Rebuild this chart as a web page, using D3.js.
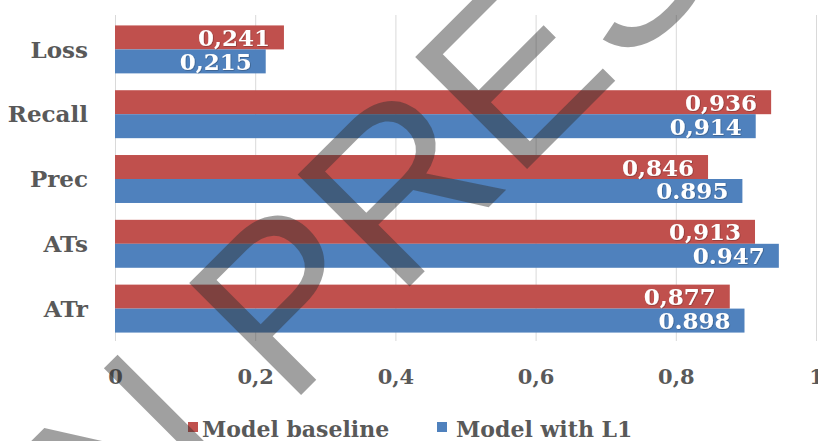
<!DOCTYPE html>
<html>
<head>
<meta charset="utf-8">
<script src="https://cdn.jsdelivr.net/npm/d3@7"></script>
<style>
  html, body { margin: 0; padding: 0; background: #ffffff; }
  svg { display: block; }
  .cat text, .xax text { font-family: "DejaVu Serif", serif; font-weight: bold; fill: #595959; }
  .val { font-family: "DejaVu Serif", serif; font-weight: bold; fill: #ffffff; font-size: 23px; }
  .legend text { font-family: "DejaVu Serif", serif; font-weight: bold; fill: #595959; font-size: 22px; }
</style>
</head>
<body>
<svg id="chart" width="818" height="441"></svg>
<script>
// Metrics, top to bottom
const categories = ["Loss", "Recall", "Prec", "ATs", "ATr"];
const seriesNames = ["Model baseline", "Model with L1"];
const baselineValues = [0.241, 0.936, 0.846, 0.913, 0.877];
const l1Values = [0.215, 0.914, 0.895, 0.947, 0.898];
// decimal separator printed on each value label
const baselineSeparators = [",", ",", ",", ",", ","];
const l1Separators = [",", ",", ".", ".", "."];
const xTicks = [0, 0.2, 0.4, 0.6, 0.8, 1];
const colors = ["#C0504D", "#4F81BD"];

const svg = d3.select("#chart");
const plot = { left: 115, right: 816, top: 17, bottom: 341 };

const x = d3.scaleLinear().domain([0, 1]).range([plot.left, plot.right]);
const y = d3.scaleBand().domain(categories).range([plot.top, plot.bottom])
  .paddingInner(0.26).paddingOuter(0.13);
const sub = d3.scaleBand().domain([0, 1]).range([0, y.bandwidth()]);

const commaLocale = d3.formatLocale({ decimal: ",", thousands: " ", grouping: [3], currency: ["", ""] });
const tickFmt = v => v === 0 || v === 1 ? String(v) : commaLocale.format(".1f")(v);

// vertical gridlines
const grid = svg.append("g")
  .attr("transform", `translate(0,${plot.bottom})`)
  .call(d3.axisBottom(x).tickValues(xTicks).tickSize(-(plot.bottom - plot.top + 2)).tickFormat(""));
grid.select(".domain").remove();
grid.selectAll("line").attr("stroke", "#d9d9d9").attr("stroke-width", 1);

// bars
const rows = categories.map((c, i) => ({
  cat: c,
  vals: [
    { s: 0, v: baselineValues[i], sep: baselineSeparators[i] },
    { s: 1, v: l1Values[i], sep: l1Separators[i] }
  ]
}));

const groups = svg.append("g").selectAll("g").data(rows).join("g")
  .attr("transform", d => `translate(0,${y(d.cat)})`);

groups.selectAll("rect").data(d => d.vals).join("rect")
  .attr("x", x(0))
  .attr("y", d => sub(d.s))
  .attr("width", d => x(d.v) - x(0))
  .attr("height", sub.bandwidth())
  .attr("fill", d => colors[d.s]);

// value labels inside bar ends
const defs = svg.append("defs");
const f = defs.append("filter").attr("id", "lblshadow").attr("x", "-10%").attr("y", "-20%").attr("width", "120%").attr("height", "140%");
f.append("feDropShadow").attr("dx", 0.6).attr("dy", 0.6).attr("stdDeviation", 0.6)
  .attr("flood-color", "#000").attr("flood-opacity", 0.35);

groups.selectAll("text").data(d => d.vals).join("text")
  .attr("class", "val")
  .attr("filter", "url(#lblshadow)")
  .attr("x", d => x(d.v) - 14)
  .attr("y", d => sub(d.s) + sub.bandwidth() / 2)
  .attr("dy", "0.37em")
  .attr("text-anchor", "end")
  .text(d => d3.format(".3f")(d.v).replace(".", d.sep));

// category axis
const cat = svg.append("g").attr("class", "cat")
  .attr("transform", `translate(${plot.left - 27},0)`)
  .call(d3.axisLeft(y).tickSize(0).tickPadding(0));
cat.select(".domain").remove();
cat.selectAll("text").attr("font-size", 23).attr("dy", "0.36em");

// value axis labels
const xa = svg.append("g").attr("class", "xax")
  .attr("transform", `translate(0,${plot.bottom})`)
  .call(d3.axisBottom(x).tickValues(xTicks).tickSize(0).tickPadding(0).tickFormat(tickFmt));
xa.select(".domain").remove();
xa.selectAll("text").attr("font-size", 21).attr("y", 43).attr("dy", 0);

// legend
const legend = svg.append("g").attr("class", "legend");
const legendX = [188, 437];
seriesNames.forEach((name, i) => {
  const g = legend.append("g").attr("transform", `translate(${legendX[i]},0)`);
  g.append("rect").attr("x", 0).attr("y", 422).attr("width", 10).attr("height", 10).attr("fill", colors[i]);
  g.append("text").attr("x", 14 + (i === 1 ? 5 : 0)).attr("y", 437).text(name);
});

// press watermark across the figure
svg.append("text")
  .attr("transform", "translate(80,616) rotate(-45)")
  .attr("font-family", "Liberation Sans, Arial, sans-serif")
  .attr("font-size", 230)
  .attr("fill", "#303030")
  .attr("fill-opacity", 0.46)
  .style("pointer-events", "none")
  .text("IN PRESS");
</script>
</body>
</html>
